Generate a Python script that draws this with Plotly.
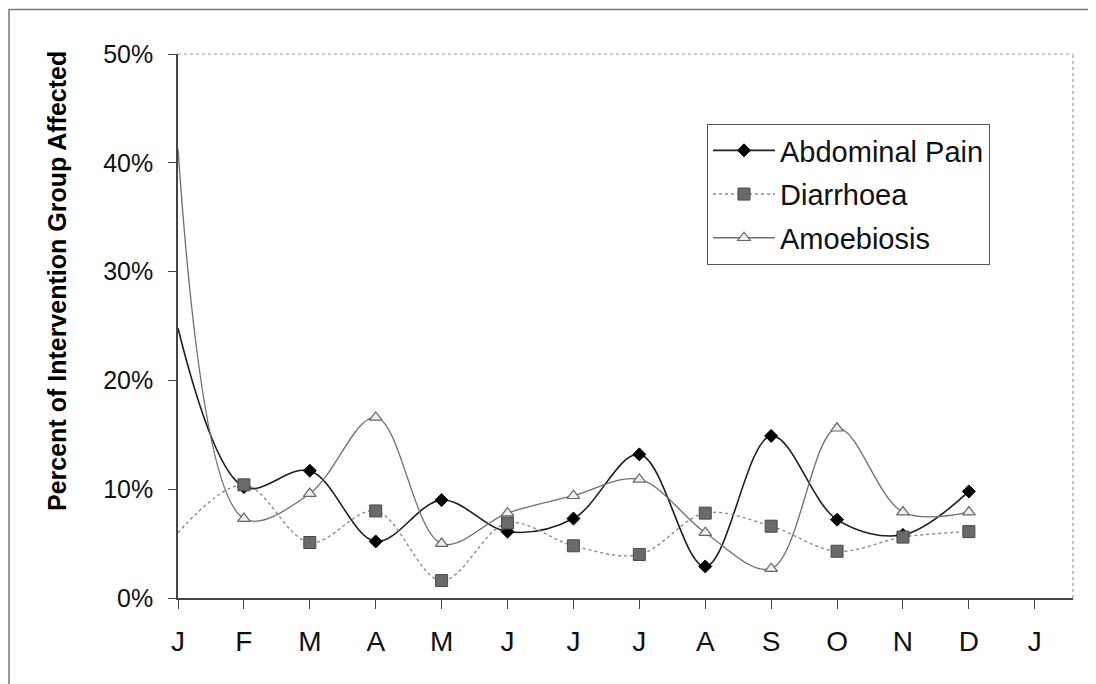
import plotly.graph_objects as go

# ---- data ----
month_labels = ["J", "F", "M", "A", "M", "J", "J", "J", "A", "S", "O", "N", "D", "J"]
x_index = list(range(13))
abdominal_pain = [24.8, 10.2, 11.7, 5.2, 9.0, 6.1, 7.3, 13.2, 2.9, 14.9, 7.2, 5.8, 9.8]
diarrhoea = [6.0, 10.4, 5.1, 8.0, 1.6, 6.9, 4.8, 4.0, 7.8, 6.6, 4.3, 5.6, 6.1]
amoebiosis = [41.3, 7.3, 9.6, 16.6, 5.0, 7.8, 9.4, 10.9, 6.0, 2.7, 15.6, 7.9, 7.9]

FONT = "Arial, 'Liberation Sans', sans-serif"

series = [
    dict(name="Abdominal Pain", y=abdominal_pain,
         line=dict(color="#1e1e1e", width=1.6, dash="solid"),
         marker=dict(symbol="diamond", size=10, color="#000000",
                     line=dict(color="#000000", width=1))),
    dict(name="Diarrhoea", y=diarrhoea,
         line=dict(color="#8a8a8a", width=1.4, dash="dot"),
         marker=dict(symbol="square", size=12, color="#6a6a6a",
                     line=dict(color="#4a4a4a", width=1))),
    dict(name="Amoebiosis", y=amoebiosis,
         line=dict(color="#6e6e6e", width=1.3, dash="solid"),
         marker=dict(symbol="triangle-up", size=11, color="#eeeeee",
                     line=dict(color="#666666", width=1.2))),
]

fig = go.Figure()

for s in series:
    fig.add_trace(go.Scatter(x=x_index, y=s["y"], mode="lines",
                             line=dict(shape="spline", smoothing=1.0, **s["line"]),
                             showlegend=False, hoverinfo="skip"))
for s in series:
    fig.add_trace(go.Scatter(x=x_index[1:], y=s["y"][1:], mode="markers",
                             marker=s["marker"], showlegend=False))
for i, s in enumerate(series):
    fig.add_trace(go.Scatter(x=[None], y=[None], mode="lines+markers", name=s["name"],
                             line=s["line"], marker=s["marker"],
                             legendgroup="g%d" % i))

W, H = 1088, 676
L, R, T, B = 170, 23, 46, 86
pw = W - L - R
ph = H - T - B

fig.update_layout(
    width=W, height=H,
    margin=dict(l=L, r=R, t=T, b=B),
    paper_bgcolor="white", plot_bgcolor="white",
    font=dict(family=FONT, color="#111111"),
    legend=dict(x=(699 - L) / pw, y=(H - B - 116) / ph, xanchor="left", yanchor="top",
                bordercolor="#555555", borderwidth=1, bgcolor="white",
                font=dict(size=29, family=FONT, color="#111111"),
                traceorder="grouped", tracegroupgap=3, itemwidth=62),
    xaxis=dict(range=[0, 13.58], tickmode="array", tickvals=list(range(14)),
               ticktext=month_labels, showgrid=False, zeroline=False,
               showline=True, linecolor="#444444", linewidth=1.5,
               ticks="outside", ticklen=9, tickcolor="#444444", tickwidth=1.2,
               tickfont=dict(size=28, family=FONT, color="#111111"),
               ticklabelstandoff=9, automargin=False),
    yaxis=dict(range=[0, 50], tickmode="array", tickvals=[0, 10, 20, 30, 40, 50],
               ticktext=["0%", "10%", "20%", "30%", "40%", "50%"],
               showgrid=False, zeroline=False,
               showline=True, linecolor="#444444", linewidth=1.5,
               ticks="outside", ticklen=8, tickcolor="#444444", tickwidth=1.2,
               tickfont=dict(size=25, family=FONT, color="#111111"),
               ticklabelstandoff=10, automargin=False),
    annotations=[
        dict(text="<b>Percent of Intervention Group Affected</b>",
             xref="paper", yref="paper", x=(49 - L) / pw, y=(H - B - 273) / ph,
             xanchor="center", yanchor="middle", textangle=-90, showarrow=False,
             font=dict(size=25, family=FONT, color="#000000")),
    ],
    shapes=[
        dict(type="line", xref="paper", yref="paper", x0=0, x1=1, y0=1, y1=1,
             line=dict(color="#9a9a9a", width=1.2, dash="dot")),
        dict(type="line", xref="paper", yref="paper", x0=1, x1=1, y0=0, y1=1,
             line=dict(color="#9a9a9a", width=1.2, dash="dot")),
        dict(type="rect", xref="paper", yref="paper",
             x0=(1 - L) / pw, x1=1.2, y0=(H - B - 1.5) / ph, y1=-0.3,
             line=dict(color="#777777", width=1.5), layer="below"),
    ],
)

fig.write_html("out.html")
